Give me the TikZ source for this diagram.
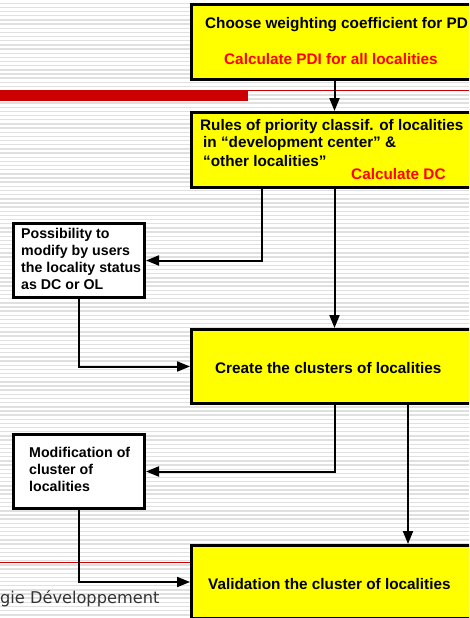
\documentclass[tikz,border=0pt]{standalone}
\usepackage{fontspec}
\setmainfont{Liberation Sans}
\newfontfamily\footfont{DejaVu Sans}
\usepackage{xcolor}
\definecolor{boxYellow}{RGB}{255, 255, 0}
\definecolor{barRed}{RGB}{204, 0, 0}
\definecolor{calcRed}{RGB}{255, 0, 0}
\definecolor{stripeGray}{RGB}{224, 224, 224}
\definecolor{footGray}{RGB}{51, 51, 51}
\usepackage{tikz}
\usetikzlibrary{positioning, arrows.meta}

\begin{document}
\begin{tikzpicture}[
		x=1pt, y=-1pt,
		ybox/.style={rectangle, draw=black, line width=3pt, fill=boxYellow,
			anchor=north west, inner sep=0pt, minimum width=286pt},
		wbox/.style={rectangle, draw=black, line width=3pt, fill=white,
			anchor=north west, inner sep=0pt, minimum width=131pt, minimum height=74pt},
		txt/.style={anchor=base west, inner sep=0pt, align=left,
			font=\bfseries\fontsize{15.3}{17}\selectfont},
		smalltxt/.style={txt, font=\bfseries\fontsize{14.2}{17}\selectfont},
		stripe/.style={stripeGray, line width=1.4pt},
		arr/.style={-{Triangle[length=13pt, width=10pt]}, line width=2pt, black}
		]
		\useasboundingbox (0,0) rectangle (469,618);
		\clip (0,0) rectangle (469,618);

		% striped slide background
		\fill[white] (0,0) rectangle (469,618);
		\foreach \s in {0,...,148}
			\draw[stripe] (0,3.3+4.16*\s) -- (469,3.3+4.16*\s);

		% red rules of the slide
		\fill[barRed] (0,90) rectangle (248,100.5);
		\draw[barRed, line width=0.9pt] (248,90.6) -- (469,90.6);
		\draw[barRed, line width=0.9pt] (0,562) -- (190,562);
		\node[anchor=base west, inner sep=0pt, text=footGray,
			font=\footfont\fontsize{16.2}{18}\selectfont] (footer) at (0,603)
			{gie Développement};

		% main chain
		\node[ybox, minimum height=75pt] (pdi)    at (190,3)   {};
		\node[ybox, minimum height=75pt] (rules)  at (190,111) {};
		\node[ybox, minimum height=74pt] (create) at (190,328) {};
		\node[ybox, minimum height=73pt] (valid)  at (190,544) {};

		% user corrections
		\node[wbox] (modstatus)  at (12,222) {};
		\node[wbox] (modcluster) at (12,433) {};

		% multi-line labels sit on the baseline of their last line
		\node[txt] (pdiHead) at (205,29) {Choose weighting coefficient for PD};
		\node[txt, text=calcRed] (pdiCalc) at (224,64) {Calculate PDI for all localities};
		\node[txt] (rulesHead) at (200,166)
		{Rules of priority classif. of localities\\
			\hspace*{3pt}in “development center” \&\\[2pt]
			\hspace*{3pt}“other localities”};
		\node[txt, text=calcRed] (rulesCalc) at (351,179) {Calculate DC};
		\node[txt] (createText) at (215,373) {Create the clusters of localities};
		\node[txt] (validText) at (208,589) {Validation the cluster of localities};
		\node[smalltxt] (statusText) at (21,289)
		{Possibility to\\modify by users\\the locality status\\as DC or OL};
		\node[smalltxt] (clusterText) at (29,491)
		{Modification of\\cluster of\\localities};

		\draw[arr] (pdi.south)   -- (rules.north);
		\draw[arr] (rules.south) -- (create.north);
		\draw[arr] ([xshift=-72.5pt]rules.south) |- (modstatus.east);
		\draw[arr] (modstatus.south) |- (create.west);
		\draw[arr] (create.south) |- (modcluster.east);
		\draw[arr] ([xshift=73.5pt]create.south) -- ([xshift=73.5pt]valid.north);
		\draw[arr] (modcluster.south) |- (valid.west);
	\end{tikzpicture}
\end{document}
